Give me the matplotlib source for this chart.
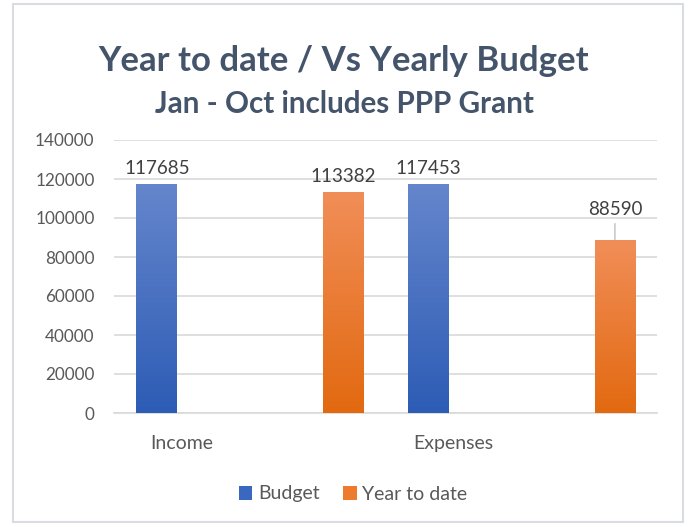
import numpy as np
import matplotlib
matplotlib.use("Agg")
import matplotlib.pyplot as plt
from matplotlib.colors import LinearSegmentedColormap
from matplotlib.patches import Rectangle, Patch

# ---- data ----
categories = ["Income", "", "Expenses", ""]
budget = [117685, np.nan, 117453, np.nan]
ytd = [np.nan, 113382, np.nan, 88590]
series_names = ["Budget", "Year to date"]
yticks = [0, 20000, 40000, 60000, 80000, 100000, 120000, 140000]
title = "Year to date / Vs Yearly Budget"
subtitle = "Jan - Oct includes PPP Grant"

plt.rcParams['font.family'] = ['Lato', 'DejaVu Sans']

W, H = 688, 527
fig = plt.figure(figsize=(W / 100, H / 100), dpi=100)
fig.patch.set_facecolor("white")

ax = fig.add_axes([114 / W, 1 - 413 / H, (657 - 114) / W, (413 - 140) / H])

blue_cmap = LinearSegmentedColormap.from_list("b", ["#2D5CB5", "#6586CC"])
orange_cmap = LinearSegmentedColormap.from_list("o", ["#E26910", "#F18E58"])
grad = np.linspace(0, 1, 256).reshape(-1, 1)

x = np.arange(len(categories))
bw = 0.30
off_b, off_o = -0.185, 0.19

series = [(budget, off_b, blue_cmap), (ytd, off_o, orange_cmap)]
for vals, off, cmap in series:
    bars = ax.bar(x + off, np.nan_to_num(vals), width=bw, color="none", edgecolor="none", zorder=3)
    for bar, v in zip(bars, vals):
        if np.isnan(v):
            continue
        x0 = bar.get_x()
        x1 = x0 + bar.get_width()
        im = ax.imshow(grad, extent=[x0, x1, 0, v], origin="lower", aspect="auto",
                       cmap=cmap, zorder=3, interpolation="bilinear")
        im.set_clip_path(bar)
        cx = x0 + bar.get_width() / 2
        if v < 100000:
            ax.annotate(f"{int(v)}", xy=(cx, v), xytext=(0, 16), textcoords="offset points",
                        ha="center", va="bottom", fontsize=13.5, color="#404040",
                        arrowprops=dict(arrowstyle="-", color="#B0B0B0", lw=0.8,
                                        shrinkA=2, shrinkB=0))
        else:
            ax.annotate(f"{int(v)}", xy=(cx, v), xytext=(0, 5), textcoords="offset points",
                        ha="center", va="bottom", fontsize=13.5, color="#404040")

ax.set_xlim(-0.5, len(categories) - 0.5)
ax.set_ylim(0, 140000)
ax.set_yticks(yticks)
ax.set_yticklabels([str(t) for t in yticks])
ax.set_xticks(x)
ax.set_xticklabels(categories)
ax.tick_params(axis="y", length=0, pad=14, labelsize=12.3, labelcolor="#595959")
ax.tick_params(axis="x", length=0, pad=16, labelsize=14, labelcolor="#595959")
ax.grid(axis="y", color="#D9D9D9", lw=1.2, zorder=0)
ax.set_axisbelow(True)
for s in ["top", "right", "left"]:
    ax.spines[s].set_visible(False)
ax.spines["bottom"].set_color("#D9D9D9")
ax.spines["bottom"].set_linewidth(1.2)

fig.text(344 / W, 1 - 71 / H, title, ha="center", va="baseline", fontsize=25,
         fontweight="bold", color="#44546A")
fig.text(344 / W, 1 - 113 / H, subtitle, ha="center", va="baseline", fontsize=21.3,
         fontweight="bold", color="#44546A")

handles = [Patch(facecolor="#3A67C0", edgecolor="none"), Patch(facecolor="#EE7A2E", edgecolor="none")]
fig.legend(handles, series_names, loc="center", bbox_to_anchor=(353 / W, 1 - 494 / H),
           ncol=2, frameon=False, fontsize=14, labelcolor="#595959",
           handlelength=0.7, handleheight=0.7, handletextpad=0.3, columnspacing=1.2)

fig.patches.append(Rectangle((13 / W, 1 - 522 / H), (683 - 13) / W, (522 - 4) / H,
                             transform=fig.transFigure, fill=False,
                             edgecolor="#D9DDE3", lw=1.5, zorder=0))

fig.savefig("out.png", dpi=100)
